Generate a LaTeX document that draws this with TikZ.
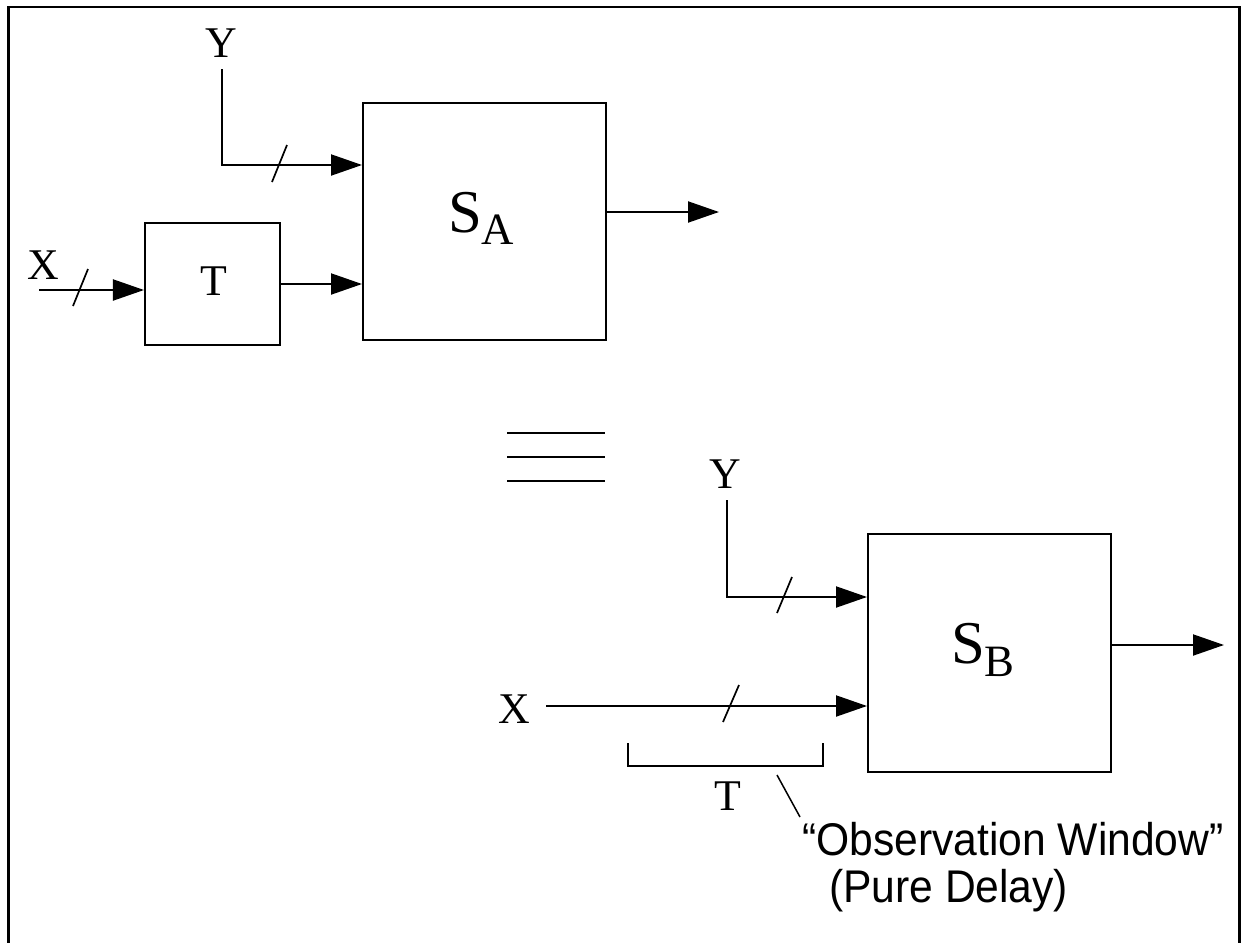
\documentclass[tikz,border=0pt]{standalone}
\usepackage{fontspec}
\setmainfont{Liberation Serif}
\newfontfamily\obsfont[FakeStretch=0.93]{Liberation Sans}
\usetikzlibrary{arrows.meta}
\begin{document}
\begin{tikzpicture}[x=1bp,y=-1bp,line width=2bp,
  lbl/.style={inner sep=0pt,anchor=base,font=\fontsize{44}{44}\selectfont},
  sublbl/.style={inner sep=0pt,anchor=base west},
  obs/.style={inner sep=0pt,anchor=base west,font=\obsfont\fontsize{46}{47}\selectfont},
  blk/.style={draw,inner sep=0pt},
  arr/.style={-{Triangle[length=31bp,width=21bp]}},
  slash/.style={line width=1.7bp}]
\useasboundingbox (0,0) rectangle (1241,943);
% frame (open at the bottom)
\draw[line width=2.2bp] (8.5,943) -- (8.5,7) -- (1239.5,7) -- (1239.5,943);

% boxes
\node[blk,minimum width=243bp,minimum height=237bp] (SA) at (484.5,221.5) {};
\node[blk,minimum width=135bp,minimum height=122bp] (TA) at (212.5,284) {};
\node[blk,minimum width=243bp,minimum height=238bp] (SB) at (989.5,653) {};

% labels
\node[lbl] (Ya) at (221,57) {Y};
\node[lbl] (Xa) at (43,279) {X};
\node[lbl] (Tlbl) at (214,295) {T};
\node[sublbl] (SAlbl) at (447,232) {\fontsize{61}{61}\selectfont S\raisebox{-12bp}{\fontsize{45}{45}\selectfont A}};
\node[lbl] (Yb) at (725,488) {Y};
\node[lbl] (Xb) at (514,723) {X};
\node[lbl] (Tb) at (728,810) {T};
\node[sublbl] (SBlbl) at (950,663) {\fontsize{61}{61}\selectfont S\raisebox{-13bp}{\fontsize{45}{45}\selectfont B}};
\node[obs] (obs1) at (801,855) {“Observation Window”};
\node[obs] (obs2) at (828,902) {(Pure Delay)};

% connectors, upper system
\coordinate (ya0) at (222,69);
\coordinate (yaK) at (222,165);
\draw[arr] (ya0) -- (yaK) -- (yaK -| SA.west);
\coordinate (xa0) at (39,290);
\draw[arr] (xa0) -- (xa0 -| TA.west);
\draw[arr] (TA.east) -- (TA.east -| SA.west);
\coordinate (sao) at (719,212);
\draw[arr] (sao -| SA.east) -- (sao);

% connectors, lower system
\coordinate (yb0) at (727,500);
\coordinate (ybK) at (727,597);
\draw[arr] (yb0) -- (ybK) -- (ybK -| SB.west);
\coordinate (xb0) at (546,706);
\draw[arr] (xb0) -- (xb0 -| SB.west);
\coordinate (sbo) at (1224,645);
\draw[arr] (sbo -| SB.east) -- (sbo);

% bus slashes
\draw[slash] (272,182) -- (287,145);
\draw[slash] (73,306) -- (88,269);
\draw[slash] (777,613) -- (792,577);
\draw[slash] (723,722) -- (739,685);

% equivalence sign
\draw (507,433) -- (605,433);
\draw (507,457) -- (605,457);
\draw (507,481) -- (605,481);

% observation window bracket and leader
\draw (628,743) -- (628,766) -- (823,766) -- (823,743);
\coordinate (lead0) at (777,775);
\coordinate (lead1) at (800,817);
\draw[line width=1.5bp] (lead0) -- (lead1);
\end{tikzpicture}
\end{document}
